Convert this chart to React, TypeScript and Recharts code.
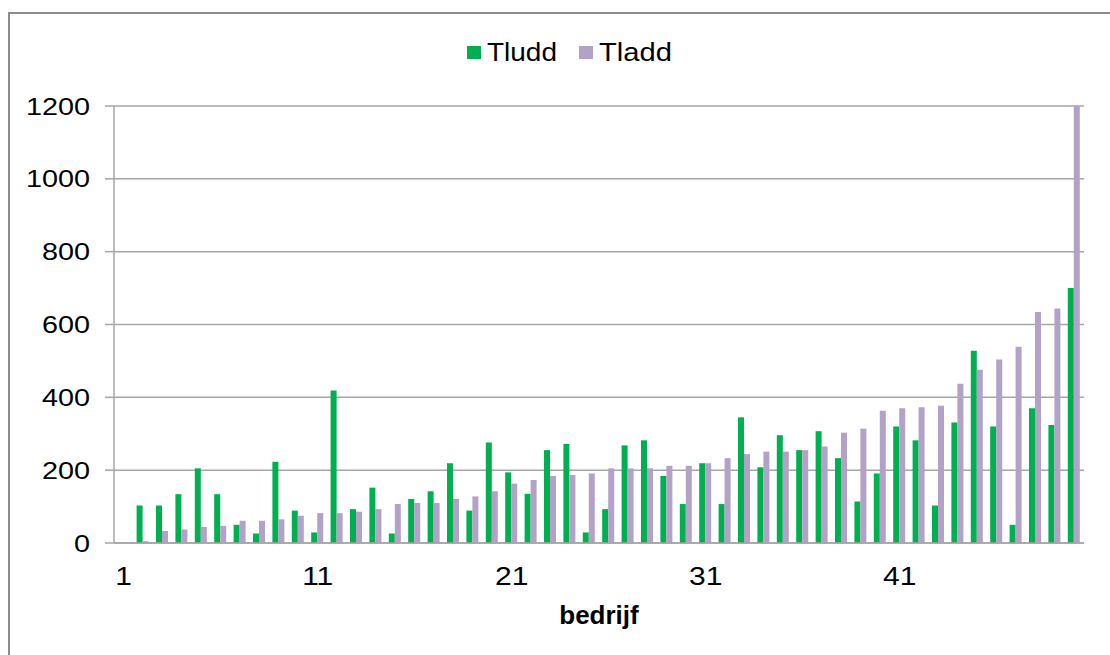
import React from 'react';
import { BarChart, Bar, XAxis, YAxis, CartesianGrid, Legend } from 'recharts';

const categories: string[] = Array.from({ length: 50 }, (_, i) => String(i + 1));

const tludd: (number | null)[] = [
  null, 103, 103, 134, 205, 134, 50, 26, 223, 89,
  29, 419, 93, 152, 26, 121, 142, 219, 89, 276,
  194, 135, 255, 272, 29, 93, 268, 282, 184, 107,
  219, 107, 345, 208, 296, 255, 307, 233, 114, 191,
  320, 282, 103, 331, 528, 320, 50, 370, 324, 700,
];

const tladd: (number | null)[] = [
  null, 5, 33, 37, 44, 47, 61, 61, 65, 75,
  82, 82, 86, 93, 107, 110, 110, 121, 128, 142,
  163, 173, 184, 187, 191, 205, 205, 205, 212, 212,
  219, 233, 244, 251, 251, 255, 265, 303, 314, 363,
  370, 373, 377, 437, 476, 504, 539, 634, 644, 1200,
];

const yTicks: number[] = [0, 200, 400, 600, 800, 1000, 1200];

const seriesOrder: string[] = ['Tludd', 'Tladd'];

const data = categories.map((c, i) => ({
  cat: c,
  [seriesOrder[0]]: tludd[i],
  [seriesOrder[1]]: tladd[i],
}));

const FONT = '"Liberation Sans", Arial, sans-serif';
const GRID = '#a6a6a6';

const YTick = (props: any) => {
  const { x, y, payload } = props;
  return (
    <g transform={`translate(${x},${y}) scale(1.2,1)`}>
      <text x={0} y={0} dy={8.6} textAnchor="end" fontFamily={FONT} fontSize={24} fill="#000">
        {payload.value}
      </text>
    </g>
  );
};

const XTick = (props: any) => {
  const { x, y, payload } = props;
  return (
    <g transform={`translate(${x},${y + 42}) scale(1.2,1)`}>
      <text x={0} y={0} textAnchor="middle" fontFamily={FONT} fontSize={25} fill="#000">
        {payload.value}
      </text>
    </g>
  );
};

const XTitle = (props: any) => {
  const vb = props.viewBox || {};
  return (
    <text
      x={vb.x + vb.width / 2}
      y={vb.y + 81}
      textAnchor="middle"
      fontFamily={FONT}
      fontSize={26}
      fontWeight="bold"
      fill="#000"
    >
      bedrijf
    </text>
  );
};

const legendTextLen = [70, 73];

const LegendContent = (props: any) => {
  const raw = props.payload || [];
  const payload = seriesOrder
    .map((name) => raw.find((p: any) => p.value === name || p.dataKey === name))
    .filter(Boolean);
  return (
    <svg width={1110} height={80} style={{ display: 'block' }}>
      {payload.map((p: any, i: number) => (
        <g key={p.value}>
          <rect x={467 + i * 112} y={46} width={14} height={13} fill={p.color} />
          <text
            x={487 + i * 112}
            y={61}
            fontFamily={FONT}
            fontSize={26}
            fill="#000"
            textLength={legendTextLen[i]}
            lengthAdjust="spacingAndGlyphs"
          >
            {p.value}
          </text>
        </g>
      ))}
    </svg>
  );
};

export default function App() {
  return (
    <div
      style={{
        position: 'absolute',
        left: 0,
        top: 0,
        width: 1110,
        height: 655,
        overflow: 'hidden',
        background: '#fff',
      }}
    >
      <div
        style={{
          position: 'absolute',
          left: 8,
          top: 12,
          width: 1300,
          height: 900,
          borderTop: '2px solid #8c8c8c',
          borderLeft: '2px solid #8c8c8c',
        }}
      />
      <div style={{ position: 'absolute', left: 0, top: 0 }}>
        <BarChart
          width={1110}
          height={655}
          data={data}
          margin={{ top: 106, right: 26, bottom: 52, left: 0 }}
          barCategoryGap="16.5%"
          barGap={0}
        >
          <CartesianGrid vertical={false} stroke={GRID} strokeWidth={1.5} />
          <XAxis
            dataKey="cat"
            interval={9}
            height={60}
            tickLine={false}
            tickSize={0}
            tickMargin={0}
            axisLine={{ stroke: GRID, strokeWidth: 1.5 }}
            tick={<XTick />}
            label={<XTitle />}
          />
          <YAxis
            width={114}
            domain={[0, 1200]}
            ticks={yTicks}
            interval={0}
            tickSize={9}
            tickMargin={15}
            tickLine={{ stroke: GRID, strokeWidth: 1.5 }}
            axisLine={{ stroke: GRID, strokeWidth: 1.5 }}
            tick={<YTick />}
          />
          <Legend
            layout="horizontal"
            verticalAlign="middle"
            align="center"
            wrapperStyle={{ position: 'absolute', top: 0, left: 0, width: 1110, height: 80 }}
            content={<LegendContent />}
          />
          <Bar dataKey={seriesOrder[0]} fill="#00B050" isAnimationActive={false} />
          <Bar dataKey={seriesOrder[1]} fill="#B3A2C7" isAnimationActive={false} />
        </BarChart>
      </div>
    </div>
  );
}
